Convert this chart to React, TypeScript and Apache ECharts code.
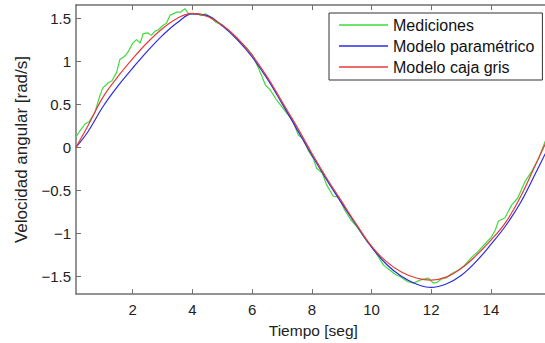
import React, { useEffect, useRef } from "react";
import * as echarts from "echarts";

// Time samples (s) for the two models
const tModel = [0.1, 0.5, 1, 1.5, 2, 2.5, 3, 3.5, 4, 4.5, 5, 5.5, 6, 6.5, 7, 7.5, 8, 8.5, 9, 9.5, 10, 10.5, 11, 11.5, 12, 12.5, 13, 13.5, 14, 14.5, 15, 15.5, 16];
const modeloCajaGris = [0, 0.25, 0.58, 0.82, 1.03, 1.22, 1.38, 1.5, 1.555, 1.52, 1.42, 1.27, 1.07, 0.82, 0.53, 0.24, -0.07, -0.36, -0.63, -0.9, -1.15, -1.33, -1.45, -1.52, -1.545, -1.51, -1.41, -1.26, -1.08, -0.87, -0.57, -0.2, 0.17];
const modeloParametrico = [0, 0.18, 0.47, 0.71, 0.92, 1.12, 1.3, 1.45, 1.55, 1.53, 1.41, 1.25, 1.05, 0.8, 0.51, 0.21, -0.09, -0.38, -0.65, -0.91, -1.16, -1.36, -1.5, -1.59, -1.63, -1.59, -1.49, -1.33, -1.13, -0.91, -0.64, -0.3, 0.05];

// Measurements [t, value]
const mediciones: [number, number][] = [
  [0.1, 0.12], [0.25, 0.2], [0.4, 0.27], [0.55, 0.3], [0.74, 0.41], [0.9, 0.6], [1.0, 0.69], [1.18, 0.75], [1.3, 0.77], [1.46, 0.87],
  [1.57, 1.02], [1.74, 1.06], [1.85, 1.11], [2.0, 1.21], [2.13, 1.25], [2.25, 1.21], [2.35, 1.32], [2.5, 1.33], [2.62, 1.3], [2.75, 1.35],
  [2.84, 1.36], [3.03, 1.42], [3.13, 1.44], [3.25, 1.535], [3.36, 1.55], [3.47, 1.57], [3.6, 1.57], [3.75, 1.61], [3.85, 1.56], [4.0, 1.55],
  [4.15, 1.55], [4.3, 1.53], [4.45, 1.55], [4.6, 1.51], [4.8, 1.45], [5.0, 1.42], [5.3, 1.33], [5.6, 1.22], [5.8, 1.16], [6.0, 1.08],
  [6.2, 0.93], [6.45, 0.72], [6.6, 0.67], [6.8, 0.56], [7.0, 0.47], [7.2, 0.38], [7.35, 0.32], [7.55, 0.14], [7.7, 0.1], [7.9, -0.05],
  [8.05, -0.13], [8.16, -0.245], [8.35, -0.3], [8.5, -0.44], [8.72, -0.57], [8.9, -0.58], [9.1, -0.73], [9.3, -0.84], [9.5, -0.92], [9.7, -1.02],
  [9.84, -1.09], [10.0, -1.15], [10.17, -1.24], [10.4, -1.37], [10.62, -1.43], [10.8, -1.48], [11.0, -1.51], [11.2, -1.56], [11.4, -1.58], [11.62, -1.545],
  [11.79, -1.53], [11.9, -1.52], [12.07, -1.58], [12.2, -1.57], [12.35, -1.53], [12.5, -1.52], [12.68, -1.47], [12.9, -1.43], [13.1, -1.38], [13.35, -1.28],
  [13.55, -1.22], [13.8, -1.125], [14.0, -1.05], [14.14, -0.97], [14.25, -0.86], [14.47, -0.82], [14.7, -0.67], [14.9, -0.59], [15.14, -0.4], [15.37, -0.28],
  [15.6, -0.13], [15.81, 0.06], [16.0, 0.2],
];

const xTicks = [2, 4, 6, 8, 10, 12, 14];
const yTicks = [-1.5, -1, -0.5, 0, 0.5, 1, 1.5];

const FONT = "'Liberation Sans', Arial, Helvetica, sans-serif";
const AXIS_COLOR = "#707070";

export default function App() {
  const ref = useRef<HTMLDivElement>(null);
  useEffect(() => {
    if (!ref.current) return;
    const chart = echarts.init(ref.current, undefined, { renderer: "svg" });
    const fmt = (v: number) => (v < 0 ? "\u2212" + String(Math.abs(v)) : String(v));
    const axisLine = { show: true, onZero: false, lineStyle: { color: AXIS_COLOR, width: 1.5 } };
    const tick = { show: true, inside: true, length: 5, lineStyle: { color: AXIS_COLOR, width: 1 } };
    chart.setOption({
      animation: false,
      backgroundColor: "#ffffff",
      textStyle: { fontFamily: FONT },
      grid: { left: 76, top: 5, right: 9.4, bottom: 46, containLabel: false },
      legend: {
        orient: "vertical",
        left: 329,
        top: 13,
        padding: [4, 8, 5, 10],
        itemGap: 5,
        itemWidth: 49,
        itemHeight: 1.5,
        icon: "rect",
        backgroundColor: "#ffffff",
        borderColor: "#333333",
        borderWidth: 1,
        textStyle: { fontFamily: FONT, fontSize: 16, color: "#111111", lineHeight: 16 },
        data: ["Mediciones", "Modelo paramétrico", "Modelo caja gris"],
      },
      xAxis: [
        {
          type: "value",
          position: "bottom",
          min: 0.1,
          max: 16,
          axisLine,
          axisTick: { ...tick, customValues: xTicks },
          axisLabel: { customValues: xTicks, margin: 8, fontSize: 15, color: "#222222", fontFamily: FONT },
          splitLine: { show: false },
          name: "Tiempo [seg]",
          nameLocation: "middle",
          nameGap: 24,
          nameTextStyle: { fontSize: 15.5, color: "#222222", fontFamily: FONT },
        },
        {
          type: "value",
          position: "top",
          min: 0.1,
          max: 16,
          axisLine,
          axisTick: { ...tick, customValues: xTicks },
          axisLabel: { show: false },
          splitLine: { show: false },
        },
      ],
      yAxis: [
        {
          type: "value",
          min: -1.707,
          max: 1.653,
          axisLine,
          axisTick: { ...tick, customValues: yTicks },
          axisLabel: { customValues: yTicks, margin: 5, fontSize: 15, color: "#222222", fontFamily: FONT, formatter: fmt },
          splitLine: { show: false },
          name: "Velocidad angular [rad/s]",
          nameLocation: "middle",
          nameGap: 45,
          nameTextStyle: { fontSize: 17, color: "#222222", fontFamily: FONT },
        },
      ],
      series: [
        {
          name: "Mediciones",
          type: "line",
          symbol: "none",
          data: mediciones,
          lineStyle: { color: "#3ddc3d", width: 1.2 },
          itemStyle: { color: "#3ddc3d" },
          z: 2,
        },
        {
          name: "Modelo paramétrico",
          type: "line",
          symbol: "none",
          smooth: 0.4,
          data: tModel.map((t, i) => [t, modeloParametrico[i]]),
          lineStyle: { color: "#2b2be0", width: 1.2 },
          itemStyle: { color: "#2b2be0" },
          z: 3,
        },
        {
          name: "Modelo caja gris",
          type: "line",
          symbol: "none",
          smooth: 0.4,
          data: tModel.map((t, i) => [t, modeloCajaGris[i]]),
          lineStyle: { color: "#e83a3a", width: 1.2 },
          itemStyle: { color: "#e83a3a" },
          z: 4,
        },
      ],
    });
    return () => chart.dispose();
  }, []);
  return (
    <div style={{ position: "fixed", left: 0, top: 0, width: 545, height: 343, overflow: "hidden", background: "#fff" }}>
      <div ref={ref} style={{ width: 560, height: 343 }} />
    </div>
  );
}
